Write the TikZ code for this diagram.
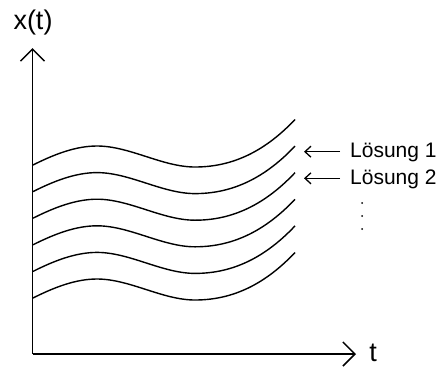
\documentclass[tikz,border=0pt]{standalone}
\usepackage{fontspec}
\setmainfont{Liberation Sans}
\usetikzlibrary{arrows.meta}
\begin{document}
\begin{tikzpicture}[x=1pt,y=-1pt,
  axis/.style={line width=1.5pt,-{Straight Barb[length=12pt,width=24pt,line width=1.5pt]}},
  sol/.style={line width=1.4pt},
  ptr/.style={line width=1.3pt,-{Straight Barb[length=6pt,width=11pt,line width=1.3pt]}},
  big/.style={font=\fontsize{27}{30}\selectfont, inner sep=0pt},
  lab/.style={font=\fontsize{21}{24}\selectfont, inner sep=0pt}]
\useasboundingbox (0,0) rectangle (438,367);
\coordinate (O) at (32.5,354);
\coordinate (Y) at (32.5,48);
\coordinate (X) at (356,354);
\draw[axis] (O) -- (Y);
\draw[axis] (O) -- (X);
\node[big,anchor=base] (xl) at (33,29.5) {x(t)};
\node[big,anchor=base] (tl) at (373,361.5) {t};
\foreach \d in {0,26.6,53.2,79.8,106.4,133}{
  \draw[sol] (33,165+\d) .. controls (54.3,154.3+\d) and (75.7,146+\d) .. (97,146+\d)
    .. controls (129.7,146+\d) and (162.3,167+\d) .. (195,167+\d)
    .. controls (228.3,167+\d) and (261.7,154.8+\d) .. (295,119.5+\d);
}
\node[lab,anchor=base west] (l1) at (350,157.5) {Lösung 1};
\node[lab,anchor=base west] (l2) at (350,184) {Lösung 2};
\coordinate (a1s) at (340,151.7);
\coordinate (a1e) at (304,151.7);
\coordinate (a2s) at (340,178.3);
\coordinate (a2e) at (304,178.3);
\draw[ptr] (a1s) -- (a1e);
\draw[ptr] (a2s) -- (a2e);
\foreach \y in {203,216,229}{
  \fill (362,\y) circle (1);
}
\end{tikzpicture}
\end{document}
